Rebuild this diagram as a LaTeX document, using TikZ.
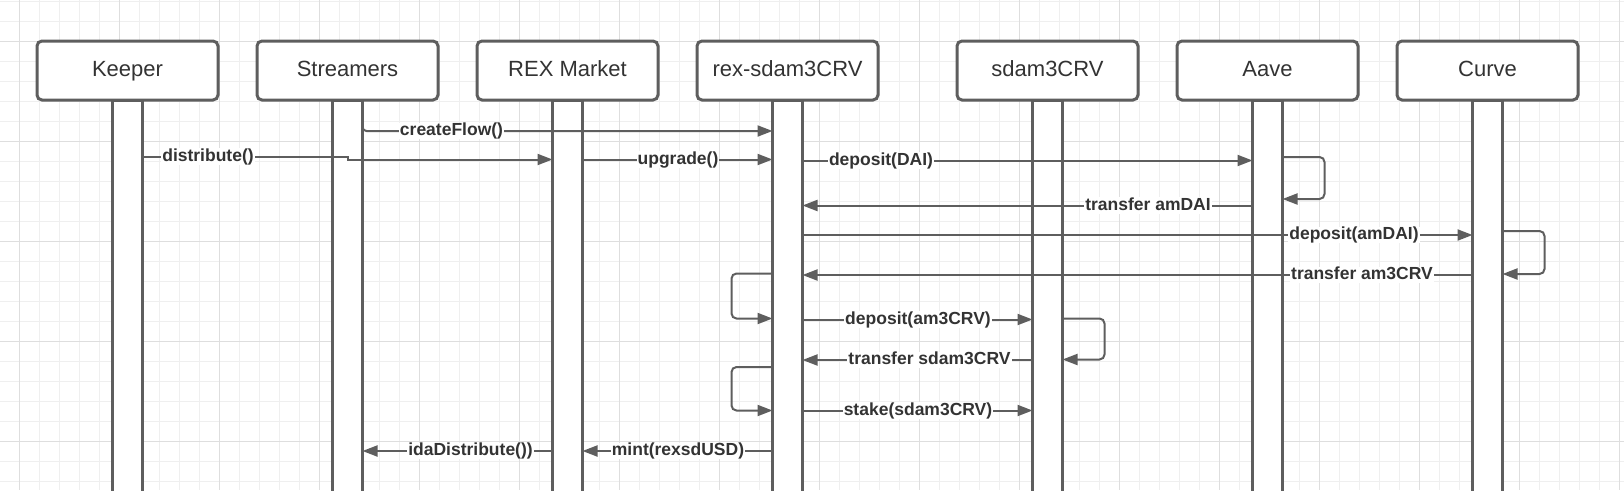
\documentclass[tikz,border=0pt]{standalone}
\usepackage{fontspec}
\setmainfont{Liberation Sans}
\usetikzlibrary{arrows.meta,positioning}
\definecolor{ink}{HTML}{5E5E5E}
\definecolor{txt}{HTML}{333333}
\definecolor{gridminor}{HTML}{EFEFEF}
\definecolor{gridmajor}{HTML}{DEDEDE}

\begin{document}
\begin{tikzpicture}[x=1pt,y=-1pt,
  actor/.style={draw=ink,line width=3pt,rounded corners=5pt,fill=white,minimum width=181pt,minimum height=59pt,outer sep=0pt,inner sep=0pt,text=txt,font=\fontsize{22}{26}\selectfont,text height=16pt,text depth=5pt},
  lifebar/.style={draw=ink,line width=3pt,fill=white,minimum width=30pt,minimum height=400pt,outer sep=0pt,inner sep=0pt},
  msg/.style={draw=ink,line width=2pt,-{Triangle[length=15pt,width=11pt]}},
  lbl/.style={fill=white,text=txt,inner xsep=1pt,inner ysep=0pt,font=\fontsize{17.5}{20}\selectfont\bfseries,text height=12.6pt,text depth=3.6pt}]
\useasboundingbox (0,0) rectangle (1624,490);
\fill[white] (0,0) rectangle (1624,490);
% grid
\foreach \gx in {19,39,...,1619} \draw[gridminor,line width=1pt] (\gx,0) -- (\gx,490);
\foreach \gy in {1,21,...,481} \draw[gridminor,line width=1pt] (0,\gy) -- (1624,\gy);
\foreach \gx in {19,119,...,1619} \draw[gridmajor,line width=1pt] (\gx,0) -- (\gx,490);
\foreach \gy in {41,141,...,441} \draw[gridmajor,line width=1pt] (0,\gy) -- (1624,\gy);

% actors
\node[actor] (keeper) at (127.5,70.5) {Keeper};
\node[actor,right=39pt of keeper] (streamers) {Streamers};
\node[actor,right=39pt of streamers] (market) {REX Market};
\node[actor,right=39pt of market] (rexsd) {rex-sdam3CRV};
\node[actor,right=79pt of rexsd] (sdam) {sdam3CRV};
\node[actor,right=39pt of sdam] (aave) {Aave};
\node[actor,right=39pt of aave] (curve) {Curve};

% lifelines
\node[lifebar,below=0pt of keeper] (keeperbar) {};
\node[lifebar,below=0pt of streamers] (streambar) {};
\node[lifebar,below=0pt of market] (marketbar) {};
\node[lifebar,below=0pt of rexsd] (rexbar) {};
\node[lifebar,below=0pt of sdam] (sdambar) {};
\node[lifebar,below=0pt of aave] (aavebar) {};
\node[lifebar,below=0pt of curve] (curvebar) {};

% messages
\draw[msg,rounded corners=4pt] (streambar.east |- 0,122) |- (rexbar.west |- 0,131);
\draw[msg] (keeperbar.east |- 0,156.5) -- (streambar.center |- 0,156.5) -- (streambar.center |- 0,159.5) -- (marketbar.west |- 0,159.5);
\draw[msg] (marketbar.east |- 0,159.5) -- (rexbar.west |- 0,159.5);
\draw[msg] (rexbar.east |- 0,160.5) -- (aavebar.west |- 0,160.5);
\draw[msg,rounded corners=5pt] (aavebar.east |- 0,157) -- ++(42,0) |- (aavebar.east |- 0,199);
\draw[msg] (aavebar.west |- 0,205.5) -- (rexbar.east |- 0,205.5);
\draw[msg] (rexbar.east |- 0,235) -- (curvebar.west |- 0,235);
\draw[msg,rounded corners=5pt] (curvebar.east |- 0,231) -- ++(42,0) |- (curvebar.east |- 0,274);
\draw[msg] (curvebar.west |- 0,275) -- (rexbar.east |- 0,275);
\draw[msg,rounded corners=5pt] (rexbar.west |- 0,273.5) -- ++(-41,0) |- (rexbar.west |- 0,318.5);
\draw[msg] (rexbar.east |- 0,319.5) -- (sdambar.west |- 0,319.5);
\draw[msg,rounded corners=5pt] (sdambar.east |- 0,318.5) -- ++(42,0) |- (sdambar.east |- 0,359.5);
\draw[msg] (sdambar.west |- 0,360) -- (rexbar.east |- 0,360);
\draw[msg,rounded corners=5pt] (rexbar.west |- 0,367) -- ++(-41,0) |- (rexbar.west |- 0,410.5);
\draw[msg] (rexbar.east |- 0,410.5) -- (sdambar.west |- 0,410.5);
\draw[msg] (rexbar.west |- 0,451) -- (marketbar.east |- 0,451);
\draw[msg] (marketbar.west |- 0,451) -- (streambar.east |- 0,451);

% labels
\node[lbl] (createflow) at (451.5,131) {createFlow()};
\node[lbl] (distribute) at (208,156.5) {distribute()};
\node[lbl] (upgrade) at (678,159.5) {upgrade()};
\node[lbl] (depositdai) at (881,160.5) {deposit(DAI)};
\node[lbl] (transferamdai) at (1148,205.5) {transfer amDAI};
\node[lbl] (depositamdai) at (1354,235) {deposit(amDAI)};
\node[lbl] (transferamcrv) at (1362,275) {transfer am3CRV};
\node[lbl] (depositamcrv) at (918,319.5) {deposit(am3CRV)};
\node[lbl] (transfersdam) at (929.5,360) {transfer sdam3CRV};
\node[lbl] (stake) at (918,410.5) {stake(sdam3CRV)};
\node[lbl] (mint) at (678,451) {mint(rexsdUSD)};
\node[lbl] (idadistribute) at (470.5,451) {idaDistribute())};
\end{tikzpicture}
\end{document}
